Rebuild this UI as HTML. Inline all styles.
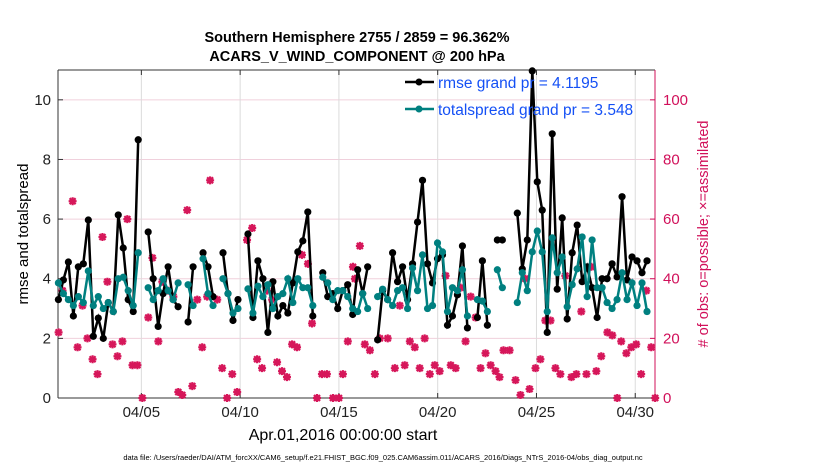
<!DOCTYPE html>
<html><head><meta charset="utf-8"><style>
body{margin:0;background:#fff;}
svg{display:block;font-family:"Liberation Sans",sans-serif;}
</style></head><body>
<svg id="chart" width="830" height="470" viewBox="0 0 830 470">
<rect width="830" height="470" fill="#fff"/>
<g id="grid"></g>
<g id="axes"></g>
<g id="marks"></g>
<text x="357" y="42" text-anchor="middle" font-size="14.5" font-weight="bold">Southern Hemisphere 2755 / 2859 = 96.362%</text>
<text x="357" y="61" text-anchor="middle" font-size="14.5" font-weight="bold">ACARS_V_WIND_COMPONENT @ 200 hPa</text>
<text transform="translate(28,234) rotate(-90)" text-anchor="middle" font-size="15">rmse and totalspread</text>
<text transform="translate(708,234) rotate(-90)" text-anchor="middle" font-size="14.5" fill="#d1105a"># of obs: o=possible; ×=assimilated</text>
<text x="343" y="440" text-anchor="middle" font-size="16">Apr.01,2016 00:00:00 start</text>
<text x="383" y="460" text-anchor="middle" font-size="7.5">data file: /Users/raeder/DAI/ATM_forcXX/CAM6_setup/f.e21.FHIST_BGC.f09_025.CAM6assim.011/ACARS_2016/Diags_NTrS_2016-04/obs_diag_output.nc</text>
<g id="legend">
<line x1="405" y1="82" x2="434" y2="82" stroke="#000" stroke-width="2.5"/>
<circle cx="419" cy="82" r="3.5" fill="#000"/>
<text x="438" y="88" font-size="15.5" fill="#1450f5">rmse grand pr = 4.1195</text>
<line x1="405" y1="109" x2="434" y2="109" stroke="#008080" stroke-width="2.5"/>
<circle cx="419" cy="109" r="3.5" fill="#008080"/>
<text x="438" y="115" font-size="15.5" fill="#1450f5">totalspread grand pr = 3.548</text>
</g>
</svg>
<script>
const rmse=[3.3,3.96,4.56,2.75,4.4,4.5,5.97,2.07,2.68,2.0,3.2,2.9,6.14,5.03,3.3,2.9,8.66,null,5.57,4.0,2.4,3.5,4.4,3.3,3.06,null,2.55,4.4,null,4.87,4.4,3.4,null,4.87,3.5,2.6,3.3,null,5.5,2.7,4.6,4.0,2.2,3.9,2.75,3.1,2.85,3.86,4.9,5.27,6.24,2.75,null,4.2,3.4,3.5,3.0,3.6,3.8,2.8,4.3,3.5,4.4,null,1.95,3.6,3.3,4.87,3.9,4.4,3.3,4.5,5.9,7.3,4.5,3.86,4.67,4.8,2.44,2.75,3.46,5.1,2.35,null,2.7,4.6,2.44,null,5.3,5.3,null,null,6.2,4.33,5.3,10.97,7.25,6.3,2.2,8.86,3.65,6.04,2.65,4.87,5.8,3.9,4.4,3.7,2.7,4.0,4.0,4.5,4.06,6.75,3.96,4.73,4.6,4.2,4.6];
const spread=[3.86,3.5,3.3,3.1,3.4,3.2,4.26,3.1,3.4,3.0,3.2,2.9,4.0,4.05,3.6,3.1,4.87,null,3.7,3.3,3.6,4.0,3.6,3.3,3.86,null,3.8,3.1,null,4.67,3.5,3.1,null,4.0,3.5,2.85,3.0,null,3.66,2.85,3.75,3.4,3.8,3.0,3.4,3.5,4.0,3.2,4.0,3.7,3.7,3.1,null,4.05,3.86,3.3,3.6,3.6,3.4,3.0,2.9,3.5,3.0,null,3.4,3.65,3.3,3.1,3.6,3.7,3.0,4.36,3.6,4.8,3.0,3.1,5.2,4.9,2.9,3.7,3.6,4.3,2.75,null,3.3,3.25,2.9,null,4.3,3.7,null,null,3.2,4.2,3.6,4.9,5.6,4.9,2.9,5.37,4.2,4.73,3.06,3.8,4.33,5.4,3.4,5.3,3.7,3.7,3.2,3.0,3.3,4.2,3.3,3.86,3.1,3.86,2.9];
const obsDays=[0.81,1.01,1.52,1.77,2.02,2.27,2.53,2.78,3.03,3.28,3.54,3.79,4.04,4.29,4.55,4.8,5.05,5.35,5.56,5.86,6.06,6.36,6.62,6.87,7.07,7.32,7.58,7.83,8.08,8.33,8.48,8.84,9.09,9.34,9.6,9.85,10.35,10.61,10.86,11.11,11.36,11.62,11.87,12.12,12.37,12.63,12.88,13.13,13.43,13.64,13.89,14.14,14.39,14.7,15.0,15.2,15.45,15.71,15.81,16.06,16.31,16.57,16.82,17.07,17.47,17.83,18.08,18.33,18.59,18.84,19.09,19.34,19.6,19.85,20.1,20.4,20.66,20.91,21.16,21.41,21.67,21.92,22.17,22.42,22.68,22.93,23.13,23.33,23.64,23.94,24.19,24.44,24.65,24.95,25.2,25.45,25.71,25.96,26.21,26.46,26.77,27.02,27.27,27.53,27.78,28.03,28.28,28.59,28.84,29.09,29.29,29.55,29.8,30.05,30.3,30.56,30.81,31.01];
const obsCounts=[22,36,66,17,31,20,13,8,54,39,18,14,19,60,11,11,0,27,47,19,39,36,34,2,1,63,4,33,17,34,73,33,10,0,8,2,53,57,13,10,36,33,12,9,7,18,17,48,45,25,0,8,8,0,0,8,19,44,40,51,18,16,8,20,20,10,31,11,19,17,10,20,8,11,9,41,11,10,37,19,34,27,10,15,11,9,7,16,16,6,1,40,3,10,13,26,26,10,8,41,7,8,29,8,44,9,14,22,21,0,19,15,17,18,8,36,17,0];
const xTickDays=[5,10,15,20,25,30];
const xTickLabels=["04/05","04/10","04/15","04/20","04/25","04/30"];
const yTicks=[0,2,4,6,8,10];
const y2Ticks=[0,20,40,60,80,100];

const NS="http://www.w3.org/2000/svg";
const L=58,R=655,T=70,B=398;
const X0=0.78,X1=31.0,Y1=11,Y2max=110;
const xs=d=>L+(d-X0)/(X1-X0)*(R-L);
const ys=v=>B-v/Y1*(B-T);
const ys2=v=>B-v/Y2max*(B-T);
const slotDay=i=>X0+0.02+i*0.2525;
function mk(tag,attrs,parent){const e=document.createElementNS(NS,tag);for(const k in attrs)e.setAttribute(k,attrs[k]);parent.appendChild(e);return e;}
const grid=document.getElementById('grid'),axes=document.getElementById('axes'),marks=document.getElementById('marks');
mk('rect',{x:L,y:T,width:R-L,height:B-T,fill:'#fff'},grid);
y2Ticks.forEach(v=>{const l=mk('line',{x1:L,x2:R,y1:ys2(v),y2:ys2(v),stroke:'#f0d0dc','stroke-width':1},grid);

});
xTickDays.forEach((d,i)=>{const l=mk('line',{x1:xs(d),x2:xs(d),y1:T,y2:B,stroke:'#dcdcdc','stroke-width':1},grid);


mk('line',{x1:xs(d),x2:xs(d),y1:B,y2:B-5,stroke:'#333'},axes);
mk('line',{x1:xs(d),x2:xs(d),y1:T,y2:T+5,stroke:'#333'},axes);
const t=mk('text',{x:xs(d),y:B+19,'text-anchor':'middle','font-size':15,fill:'#222'},axes);t.textContent=xTickLabels[i];

});
yTicks.forEach(v=>{mk('line',{x1:L,x2:L+5,y1:ys(v),y2:ys(v),stroke:'#333'},axes);
const t=mk('text',{x:L-7,y:ys(v)+5,'text-anchor':'end','font-size':15,fill:'#222'},axes);t.textContent=v;

});
y2Ticks.forEach(v=>{mk('line',{x1:R,x2:R-5,y1:ys2(v),y2:ys2(v),stroke:'#d1105a'},axes);
const t=mk('text',{x:R+8,y:ys2(v)+5,'font-size':15,fill:'#d1105a'},axes);t.textContent=v;

});
mk('line',{x1:L,x2:R,y1:T,y2:T,stroke:'#333'},axes);
mk('line',{x1:L,x2:R,y1:B,y2:B,stroke:'#333'},axes);
mk('line',{x1:L,x2:L,y1:T,y2:B,stroke:'#333'},axes);
mk('line',{x1:R,x2:R,y1:T,y2:B,stroke:'#d1105a'},axes);
const og=mk('g',{},marks);


obsDays.forEach((d,i)=>{const cx=xs(d),cy=ys2(obsCounts[i]);
const p=mk('path',{d:`M${cx-4},${cy}H${cx+4}M${cx},${cy-4}V${cy+4}M${cx-3},${cy-3}L${cx+3},${cy+3}M${cx-3},${cy+3}L${cx+3},${cy-3}`,stroke:'#d6175a','stroke-width':2.2},og);


const c=mk('circle',{cx:cx,cy:cy,r:3,fill:'#d6175a'},og);

});
function series(vals,color,name){
 let d='',pen=false;
 vals.forEach((v,i)=>{if(v==null){pen=false;return;}d+=(pen?'L':'M')+xs(slotDay(i)).toFixed(1)+','+ys(v).toFixed(1);pen=true;});
 const g=mk('g',{},marks);
 
 
 mk('path',{d:d,fill:'none',stroke:color,'stroke-width':2.5},g);
 vals.forEach((v,i)=>{if(v==null)return;const c=mk('circle',{cx:xs(slotDay(i)),cy:ys(v),r:3.6,fill:color},g);
 
 });
}
series(rmse,'#000','rmse-series');
series(spread,'#008080','totalspread-series');
</script>
</body></html>
